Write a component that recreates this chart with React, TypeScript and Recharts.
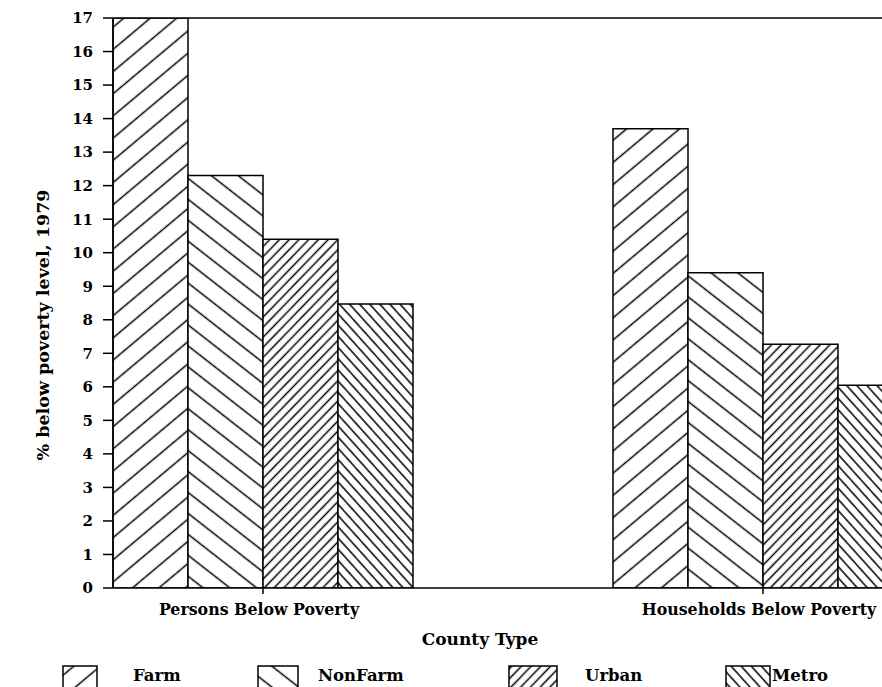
import { BarChart, Bar, XAxis, YAxis, Legend, ReferenceLine } from 'recharts';

const categories = ['Persons Below Poverty', 'Households Below Poverty'];
const farm = [17.0, 13.7];
const nonFarm = [12.3, 9.4];
const urban = [10.4, 7.27];
const metro = [8.47, 6.05];
const yTicks = [0, 1, 2, 3, 4, 5, 6, 7, 8, 9, 10, 11, 12, 13, 14, 15, 16, 17];

const data = categories.map((category, i) => ({
  category,
  farm: farm[i],
  nonFarm: nonFarm[i],
  urban: urban[i],
  metro: metro[i],
}));

const series = [
  { key: 'farm', name: 'Farm', pattern: 'pat-farm' },
  { key: 'nonFarm', name: 'NonFarm', pattern: 'pat-nonfarm' },
  { key: 'urban', name: 'Urban', pattern: 'pat-urban' },
  { key: 'metro', name: 'Metro', pattern: 'pat-metro' },
];

const FONT = "'DejaVu Serif', serif";
const INK = '#000';

// hatch patterns: spacing (perpendicular), angle
const hatches = [
  { id: 'pat-farm', gap: 17, angle: -40 },
  { id: 'pat-nonfarm', gap: 16.5, angle: 38 },
  { id: 'pat-urban', gap: 7, angle: -46 },
  { id: 'pat-metro', gap: 7.5, angle: 48 },
];

// legend layout (swatch left, swatch width, label left)
const legendPos = [
  { sw: 62, w: 34, lab: 133 },
  { sw: 257, w: 40, lab: 318 },
  { sw: 508, w: 48, lab: 585 },
  { sw: 725, w: 44, lab: 772 },
];

function YLabel({ viewBox }: any) {
  const cx = viewBox.x + 43;
  const cy = viewBox.y + viewBox.height / 2 + 22;
  return (
    <text
      x={cx}
      y={cy}
      transform={`rotate(-90 ${cx} ${cy})`}
      textAnchor="middle"
      dominantBaseline="central"
      fontFamily={FONT}
      fontWeight="bold"
      fontSize={17.5}
      fill={INK}
    >
      % below poverty level, 1979
    </text>
  );
}

function XLabel({ viewBox }: any) {
  return (
    <text
      x={viewBox.x + 367}
      y={viewBox.y + 51}
      textAnchor="middle"
      dominantBaseline="central"
      fontFamily={FONT}
      fontWeight="bold"
      fontSize={17}
      fill={INK}
    >
      County Type
    </text>
  );
}

function HatchLegend() {
  return (
    <div style={{ position: 'relative', width: 882, height: 39, fontFamily: FONT }}>
      {series.map((s, i) => (
        <div key={s.key}>
          <svg
            width={legendPos[i].w + 2}
            height={26}
            style={{ position: 'absolute', left: legendPos[i].sw, top: 17 }}
          >
            <rect
              x={1}
              y={1}
              width={legendPos[i].w}
              height={24}
              fill={`url(#${s.pattern})`}
              stroke={INK}
              strokeWidth={1.5}
            />
          </svg>
          <span
            style={{
              position: 'absolute',
              left: legendPos[i].lab,
              top: 18,
              fontSize: 16.5,
              lineHeight: '20px',
              fontWeight: 'bold',
              color: INK,
            }}
          >
            {s.name}
          </span>
        </div>
      ))}
    </div>
  );
}

export default function App() {
  return (
    <div
      style={{
        position: 'fixed',
        left: 0,
        top: 0,
        width: 882,
        height: 687,
        overflow: 'hidden',
        background: '#fff',
      }}
    >
      <BarChart
        width={1013}
        height={687}
        data={data}
        margin={{ top: 18, right: 0, bottom: 0, left: 0 }}
        barCategoryGap="20%"
        barGap={0}
      >
        <defs>
          {hatches.map((h) => (
            <pattern
              key={h.id}
              id={h.id}
              patternUnits="userSpaceOnUse"
              width={h.gap}
              height={h.gap}
              patternTransform={`rotate(${h.angle})`}
            >
              <rect width={h.gap} height={h.gap} fill="#fff" />
              <line x1={0} y1={h.gap / 2} x2={h.gap} y2={h.gap / 2} stroke={INK} strokeWidth={1.5} />
            </pattern>
          ))}
        </defs>
        <XAxis
          dataKey="category"
          height={60}
          padding={{ left: -100, right: 0 }}
          axisLine={{ stroke: INK, strokeWidth: 1.5 }}
          tickLine={{ stroke: INK, strokeWidth: 1.5 }}
          tickSize={6}
          tickMargin={10}
          tick={{ fontFamily: FONT, fontWeight: 'bold', fontSize: 15.8, fill: INK, dx: -4 }}
          label={<XLabel />}
        />
        <YAxis
          width={113}
          domain={[0, 17]}
          ticks={yTicks}
          interval={0}
          allowDataOverflow
          axisLine={{ stroke: INK, strokeWidth: 1.5 }}
          tickLine={{ stroke: INK, strokeWidth: 1.5 }}
          tickSize={10}
          tickMargin={10}
          tick={{ fontFamily: FONT, fontWeight: 'bold', fontSize: 15, fill: INK }}
          label={<YLabel />}
        />
        <ReferenceLine y={17} stroke={INK} strokeWidth={1.5} />
        <Legend
          verticalAlign="bottom"
          height={39}
          content={() => <HatchLegend />}
          wrapperStyle={{ left: 0, width: 882 }}
        />
        {series.map((s) => (
          <Bar
            key={s.key}
            dataKey={s.key}
            name={s.name}
            fill={`url(#${s.pattern})`}
            stroke={INK}
            strokeWidth={1.5}
            isAnimationActive={false}
          />
        ))}
      </BarChart>
    </div>
  );
}
